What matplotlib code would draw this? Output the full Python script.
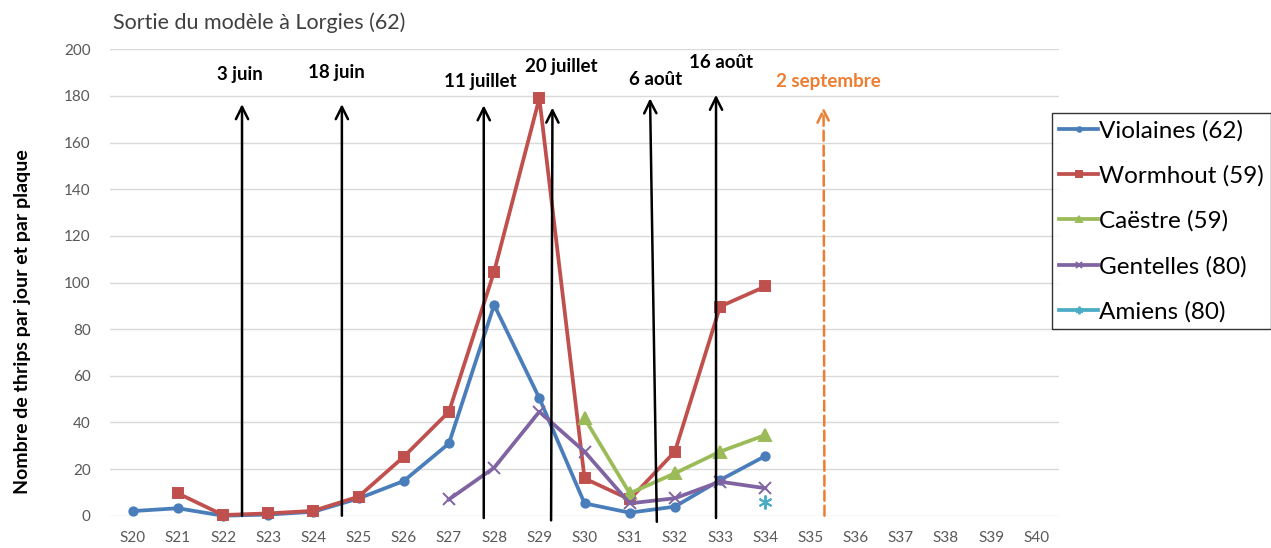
import numpy as np
import matplotlib
matplotlib.use("Agg")
import matplotlib.pyplot as plt

plt.rcParams['font.family'] = ['Lato', 'DejaVu Sans']

# semaines S20..S40
weeks = ["S%d" % w for w in range(20, 41)]
nan = np.nan

violaines = [2, 3.2, 0, 0.5, 1.7, 7.4, 14.9, 31, 90.4, 50.4, 5.3, 1.3, 3.9, 15.3, 25.6]
wormhout = [nan, 9.6, 0.3, 1, 2.1, 8.2, 25.3, 44.6, 104.7, 179, 16, 7, 27.5, 89.7, 98.3]
caestre = [nan] * 10 + [41.8, 9.6, 18.2, 27.5, 34.6]
gentelles = [nan] * 7 + [7, 20.6, 44.6, 27.5, 5.3, 7.5, 14.6, 11.8]
amiens = [nan] * 14 + [6]

# dates de sortie du modele (position en semaines depuis S20)
dates = ["3 juin", "18 juin", "11 juillet", "20 juillet", "6 août", "16 août", "2 septembre"]
arrow_x_bot = [2.42, 4.63, 7.77, 9.26, 11.6, 12.91, 15.31]
arrow_x_top = [2.42, 4.63, 7.77, 9.29, 11.45, 12.91, 15.29]
arrow_y_bot = [0, 0, -1, -2, -2.6, -1, 0]
arrow_y_top = [176.5, 176.5, 176, 175, 179, 180.5, 175]
label_x = [2.37, 4.51, 7.70, 9.49, 11.57, 13.03, 15.40]
label_y = [189, 190, 186, 192.5, 187, 194.5, 186]

fig = plt.figure(figsize=(12.71, 5.48), dpi=100)
ax = fig.add_axes([0.0866, 0.0589, 0.7466, 0.8511])

x = np.arange(len(weeks))
series = [
    ("Violaines (62)", violaines, "#4A7EBB", "o", 6),
    ("Wormhout (59)", wormhout, "#C0504D", "s", 7.5),
    ("Caëstre (59)", caestre, "#9BBB59", "^", 8),
    ("Gentelles (80)", gentelles, "#8064A2", "x", 8),
    ("Amiens (80)", amiens, "#4BACC6", (6, 2, 0), 10),
]
for name, vals, col, mk, ms in series:
    ax.plot(x[:len(vals)], vals, color=col, lw=2.7, marker=mk, ms=ms,
            mew=1.4, label=name, clip_on=False, zorder=3)

for i, d in enumerate(dates):
    col = "#ED7D31" if d == "2 septembre" else "black"
    ls = (0, (4, 2)) if d == "2 septembre" else "-"
    ax.annotate("", xy=(arrow_x_top[i], arrow_y_top[i]),
                xytext=(arrow_x_bot[i], arrow_y_bot[i]),
                arrowprops=dict(arrowstyle="->", color=col, lw=1.8, ls=ls,
                                mutation_scale=22, shrinkA=0, shrinkB=0),
                annotation_clip=False, zorder=4)
    ax.text(label_x[i], label_y[i], d, color=col, fontsize=13.5,
            fontweight="bold", ha="center", va="center")

ax.set_xlim(-0.5, len(weeks) - 0.5)
ax.set_ylim(0, 200)
ax.set_xticks(x)
ax.set_xticklabels(weeks)
ax.set_yticks(range(0, 201, 20))
ax.tick_params(length=0, colors="#595959", labelsize=11)
ax.tick_params(axis="x", pad=11)
ax.tick_params(axis="y", pad=14)
ax.grid(axis="y", color="#D9D9D9", lw=1)
ax.set_axisbelow(True)
for s in ax.spines.values():
    s.set_visible(False)

ax.set_ylabel("Nombre de thrips par jour et par plaque", fontsize=14,
              fontweight="bold")
ax.yaxis.set_label_coords(-0.083, 0.417)
fig.text(0.089, 0.958, "Sortie du modèle à Lorgies (62)", fontsize=15.5,
         color="#404040", va="center")

leg = fig.legend(loc="upper left", bbox_to_anchor=(1052 / 1271, 1 - 113 / 548),
                 fontsize=17.5, frameon=True, fancybox=False, edgecolor="black",
                 handlelength=1.6, handletextpad=0.05, labelspacing=0.97,
                 borderpad=0.3, borderaxespad=0, markerscale=0.55)
leg.get_frame().set_linewidth(1)

fig.savefig("out.png", dpi=100)
